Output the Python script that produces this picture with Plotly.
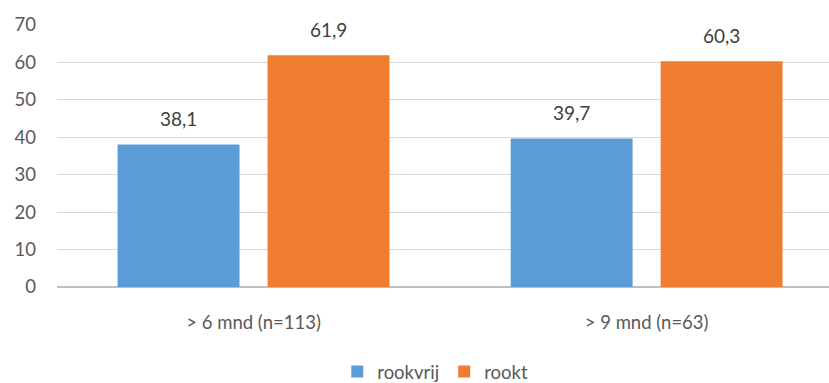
import plotly.graph_objects as go

categories = ["> 6 mnd (n=113)", "> 9 mnd (n=63)"]
rookvrij = [38.1, 39.7]
rookt = [61.9, 60.3]
series_names = ["rookvrij", "rookt"]
y_ticks = [0, 10, 20, 30, 40, 50, 60, 70]

colors = ["#5a9bd8", "#ee7d2f"]
font_family = "Lato, 'Open Sans', sans-serif"
text_color = "#595959"

fig = go.Figure()
for name, vals, col in zip(series_names, [rookvrij, rookt], colors):
    fig.add_trace(go.Bar(
        x=categories, y=vals, name=name,
        marker=dict(color=col, line=dict(width=0)),
    ))

# data labels above the bars
offsets = [-75, 75]
for vals, xs in zip([rookvrij, rookt], offsets):
    for c, v in zip(categories, vals):
        fig.add_annotation(
            x=c, y=v, text=f"{v:.1f}".replace(".", ","),
            xshift=xs, yshift=12, yanchor="bottom", showarrow=False,
            font=dict(size=19, color="#404040", family=font_family),
        )

fig.update_layout(
    width=829, height=383,
    margin=dict(l=57, r=0, t=25, b=96, autoexpand=False),
    paper_bgcolor="white", plot_bgcolor="white",
    barmode="group", bargap=0.237, bargroupgap=0.187,
    separators=", ",
    font=dict(family=font_family, size=18.5, color=text_color),
    showlegend=True,
    legend=dict(orientation="h", x=0.49, xanchor="center",
                yref="container", y=0.029, yanchor="middle",
                font=dict(size=18.5, color=text_color), itemwidth=30,
                traceorder="normal"),
    xaxis=dict(range=[-0.5, 1.464], showgrid=False, showline=False, ticks="",
               tickfont=dict(size=18.5, color=text_color), ticklabelstandoff=22,
               automargin=False),
    yaxis=dict(range=[0, 70], tickvals=y_ticks, showgrid=True, gridcolor="#d9d9d9",
               gridwidth=1, zeroline=True, zerolinecolor="#bfbfbf", zerolinewidth=1.5,
               showline=False, ticks="", tickfont=dict(size=18.5, color=text_color),
               ticklabelstandoff=20, automargin=False),
)

fig.write_html("out.html")
